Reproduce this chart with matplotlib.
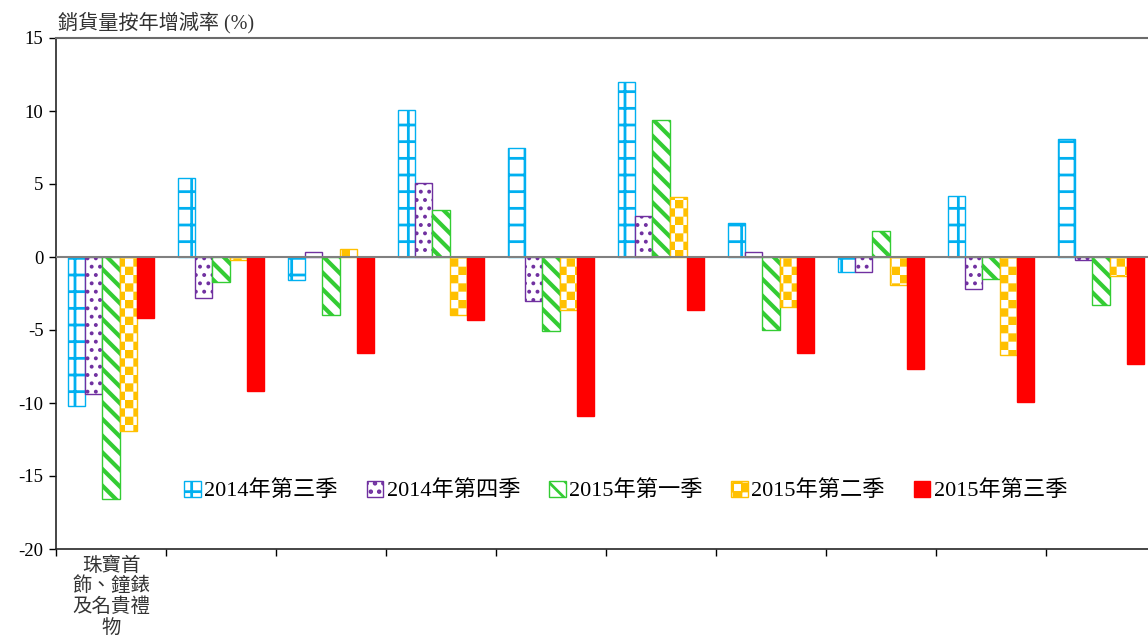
import matplotlib
matplotlib.use('Agg')
import matplotlib.pyplot as plt
import matplotlib.hatch as mhatch
from matplotlib.path import Path
import numpy as np

plt.rcParams['font.family'] = ['Liberation Serif', 'Noto Sans CJK TC', 'DejaVu Sans']
plt.rcParams['axes.unicode_minus'] = False
plt.rcParams['hatch.linewidth'] = 2.0

# 類別 (只有第一個有標籤)
categories = ['珠寶首\n飾、鐘錶\n及名貴禮\n物', '', '', '', '', '', '', '', '', '']
series_names = ['2014年第三季', '2014年第四季', '2015年第一季', '2015年第二季', '2015年第三季']
q3_2014 = [-10.2, 5.4, -1.6, 10.1, 7.5, 12.0, 2.3, -1.0, 4.2, 8.1]
q4_2014 = [-9.4, -2.8, 0.35, 5.1, -3.0, 2.8, 0.35, -1.0, -2.2, -0.2]
q1_2015 = [-16.6, -1.7, -4.0, 3.2, -5.1, 9.4, -5.0, 1.8, -1.5, -3.3]
q2_2015 = [-11.9, -0.2, 0.55, -4.0, -3.6, 4.1, -3.4, -1.9, -6.7, -1.3]
q3_2015 = [-4.2, -9.2, -6.6, -4.3, -10.9, -3.6, -6.6, -7.7, -9.9, -7.3]

CHECKER_LW = 1.0


class CheckerHatch(mhatch.HatchPatternBase):
    """棋盤格填充, 用 '*' 觸發"""
    def __init__(self, hatch, density):
        self.n = hatch.count('*') * density
        self.num_vertices = 5 * ((self.n * self.n + 1) // 2) if self.n else 0

    def set_vertices_and_codes(self, vertices, codes):
        n = self.n
        s = 1.0 / n
        pad = CHECKER_LW / 144.0
        k = 0
        for i in range(n):
            for j in range(n):
                if (i + j) % 2 == 0:
                    x0, y0 = i * s + pad, j * s + pad
                    x1, y1 = (i + 1) * s - pad, (j + 1) * s - pad
                    vertices[k:k + 5] = [(x0, y0), (x1, y0), (x1, y1), (x0, y1), (x0, y0)]
                    codes[k:k + 5] = [Path.MOVETO, Path.LINETO, Path.LINETO,
                                      Path.LINETO, Path.CLOSEPOLY]
                    k += 5


mhatch._hatch_types = [t for t in mhatch._hatch_types if t is not mhatch.Stars] + [CheckerHatch]

colors = ['#00B0F0', '#7030A0', '#33CC33', '#FFC000', '#FF0000']
hatches = ['+', '..', '\\\\', '**', None]
hatch_lws = [2.0, 1.6, 3.0, CHECKER_LW, 1.0]
data = [q3_2014, q4_2014, q1_2015, q2_2015, q3_2015]

fig = plt.figure(figsize=(11.48, 6.36), dpi=100)
ax = fig.add_axes([56 / 1148, 87 / 636, 1100 / 1148, 511 / 636])

x = np.arange(len(categories))
w = 0.156
for i, (vals, name, c, h, hlw) in enumerate(zip(data, series_names, colors, hatches, hatch_lws)):
    with plt.rc_context({'hatch.linewidth': hlw}):
        if h is None:
            bars = ax.bar(x + (i - 2) * w, vals, w, color=c, edgecolor=c, linewidth=1, label=name)
        else:
            bars = ax.bar(x + (i - 2) * w, vals, w, facecolor='white', edgecolor=c, hatch=h,
                          linewidth=1, label=name)
    for b in bars:
        if hasattr(b, 'set_hatch_linewidth'):
            b.set_hatch_linewidth(hlw)

ax.axhline(0, color='#808080', linewidth=1.5, zorder=3)

ax.set_xlim(-0.5, len(categories) - 0.5)
ax.set_ylim(-20, 15)
ax.set_yticks(range(-20, 16, 5))
ax.tick_params(axis='y', direction='out', length=5, width=1, labelsize=13.5, pad=4)

ax.set_xticks(np.arange(-0.5, len(categories), 1))
ax.set_xticklabels([])
ax.tick_params(axis='x', which='major', direction='out', length=5, width=1)
ax.set_xticks(x, categories, minor=True)
ax.tick_params(axis='x', which='minor', length=0, pad=4)
for lbl in ax.get_xticklabels(minor=True):
    lbl.set_fontfamily(['Noto Sans CJK TC'])
    lbl.set_fontsize(14)
    lbl.set_linespacing(0.98)
    lbl.set_color('#333333')

for s in ['left', 'bottom']:
    ax.spines[s].set_color('#262626')
    ax.spines[s].set_linewidth(1.2)
ax.spines['top'].set_color('#6b6b6b')
ax.spines['top'].set_linewidth(1.5)
ax.spines['right'].set_visible(False)

fig.text(58 / 1148, 1 - 23 / 636, '銷貨量按年增減率 (%)', fontsize=14.5,
         family=['Liberation Serif', 'Noto Sans CJK TC'], color='#333333',
         va='center', ha='left')

ax.legend(loc='center', bbox_to_anchor=(0.518, 0.1135), ncol=5, frameon=False,
          fontsize=16, handlelength=0.75, handleheight=0.75, handletextpad=0.15,
          columnspacing=1.3, borderpad=0)

fig.savefig('out.png', dpi=100)
